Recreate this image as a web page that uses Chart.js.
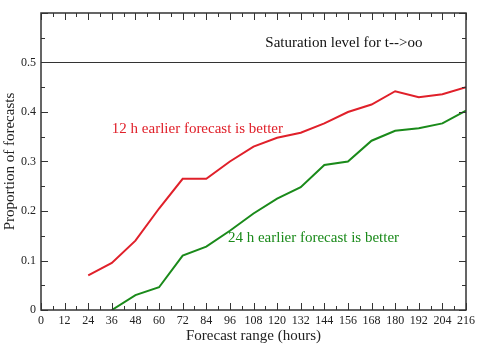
<!DOCTYPE html>
<html>
<head>
<meta charset="utf-8">
<script src="https://cdn.jsdelivr.net/npm/chart.js@4.4.9/dist/chart.umd.min.js"></script>
<style>
  html, body { margin: 0; padding: 0; background: #ffffff; }
  #wrap { width: 485px; height: 350px; position: relative; }
</style>
</head>
<body>
<div id="wrap"><canvas id="chart"></canvas></div>
<script>
const hours = [24, 36, 48, 60, 72, 84, 96, 108, 120, 132, 144, 156, 168, 180, 192, 204, 216];
const better12 = [0.07, 0.095, 0.14, 0.205, 0.265, 0.265, 0.30, 0.33, 0.348, 0.358, 0.377, 0.40, 0.415, 0.442, 0.43, 0.436, 0.45];
const better24 = [null, 0.0, 0.03, 0.046, 0.11, 0.128, 0.16, 0.195, 0.225, 0.248, 0.293, 0.30, 0.342, 0.362, 0.367, 0.377, 0.403];
const saturation = 0.5;
const notes = [
    { text: 'Saturation level for t-->oo', x: 114, y: 0.54, color: '#111111' },
    { text: '12 h earlier forecast is better', x: 36, y: 0.365, color: '#e0202a' },
    { text: '24 h earlier forecast is better', x: 95, y: 0.145, color: '#1a8a1a' }
];

const serif = "'Liberation Serif', 'DejaVu Serif', serif";
const points = values => hours.map((h, i) => ({ x: h, y: values[i] }));

// frame, inward ticks, saturation line and notes
const framePlugin = {
    id: 'frame',
    afterDatasetsDraw(chart) {
        const { ctx, chartArea: a, scales: { x, y } } = chart;
        ctx.save();
        ctx.strokeStyle = '#333333';
        ctx.lineWidth = 1.2;
        const ys = y.getPixelForValue(saturation);
        ctx.beginPath();
        ctx.moveTo(a.left, ys);
        ctx.lineTo(a.right, ys);
        ctx.stroke();
        ctx.lineWidth = 1;
        for (let v = 0; v <= 216; v += 6) {
            const px = Math.round(x.getPixelForValue(v)) + 0.5;
            const len = v % 12 === 0 ? 7 : 4;
            ctx.beginPath();
            ctx.moveTo(px, a.bottom); ctx.lineTo(px, a.bottom - len);
            ctx.moveTo(px, a.top); ctx.lineTo(px, a.top + len);
            ctx.stroke();
        }
        for (let k = 0; k <= 12; k++) {
            const py = Math.round(y.getPixelForValue(k * 0.05)) + 0.5;
            const len = k % 2 === 0 ? 7 : 4;
            ctx.beginPath();
            ctx.moveTo(a.left, py); ctx.lineTo(a.left + len, py);
            ctx.moveTo(a.right, py); ctx.lineTo(a.right - len, py);
            ctx.stroke();
        }
        ctx.lineWidth = 1.5;
        ctx.strokeRect(a.left, a.top, a.right - a.left, a.bottom - a.top);
        ctx.font = `15px ${serif}`;
        ctx.textBaseline = 'middle';
        notes.forEach(n => {
            ctx.fillStyle = n.color;
            ctx.fillText(n.text, x.getPixelForValue(n.x), y.getPixelForValue(n.y));
        });
        ctx.restore();
    }
};

new Chart(document.getElementById('chart').getContext('2d'), {
    type: 'line',
    data: {
        datasets: [
            { label: '12 h', data: points(better12), borderColor: '#e0202a', borderWidth: 2, pointRadius: 0, tension: 0, fill: false },
            { label: '24 h', data: points(better24), borderColor: '#1a8a1a', borderWidth: 2, pointRadius: 0, tension: 0, fill: false, spanGaps: false }
        ]
    },
    options: {
        responsive: true,
        maintainAspectRatio: false,
        animation: false,
        devicePixelRatio: 1,
        layout: { padding: { top: 13, right: 19, left: 0, bottom: 0 } },
        plugins: { legend: { display: false }, tooltip: { enabled: false } },
        scales: {
            x: {
                type: 'linear',
                min: 0,
                max: 216,
                grid: { display: false, drawTicks: false },
                border: { display: false },
                ticks: { stepSize: 12, color: '#222222', padding: 4, maxRotation: 0, autoSkip: false, font: { family: serif, size: 12 } },
                title: { display: true, text: 'Forecast range (hours)', color: '#222222', padding: { top: 0, bottom: 5 }, font: { family: serif, size: 15 } },
                afterFit: scale => { scale.height = 40; }
            },
            y: {
                min: 0,
                max: 0.6,
                grid: { display: false, drawTicks: false },
                border: { display: false },
                ticks: {
                    stepSize: 0.1,
                    color: '#222222',
                    padding: 5,
                    font: { family: serif, size: 12 },
                    callback: v => v > 0.55 ? '' : String(Number(v.toFixed(1)))
                },
                title: { display: true, text: 'Proportion of forecasts', color: '#222222', padding: { top: 1, bottom: 0 }, font: { family: serif, size: 15 } },
                afterFit: scale => { scale.width = 41; }
            }
        }
    },
    plugins: [framePlugin]
});
</script>
</body>
</html>
